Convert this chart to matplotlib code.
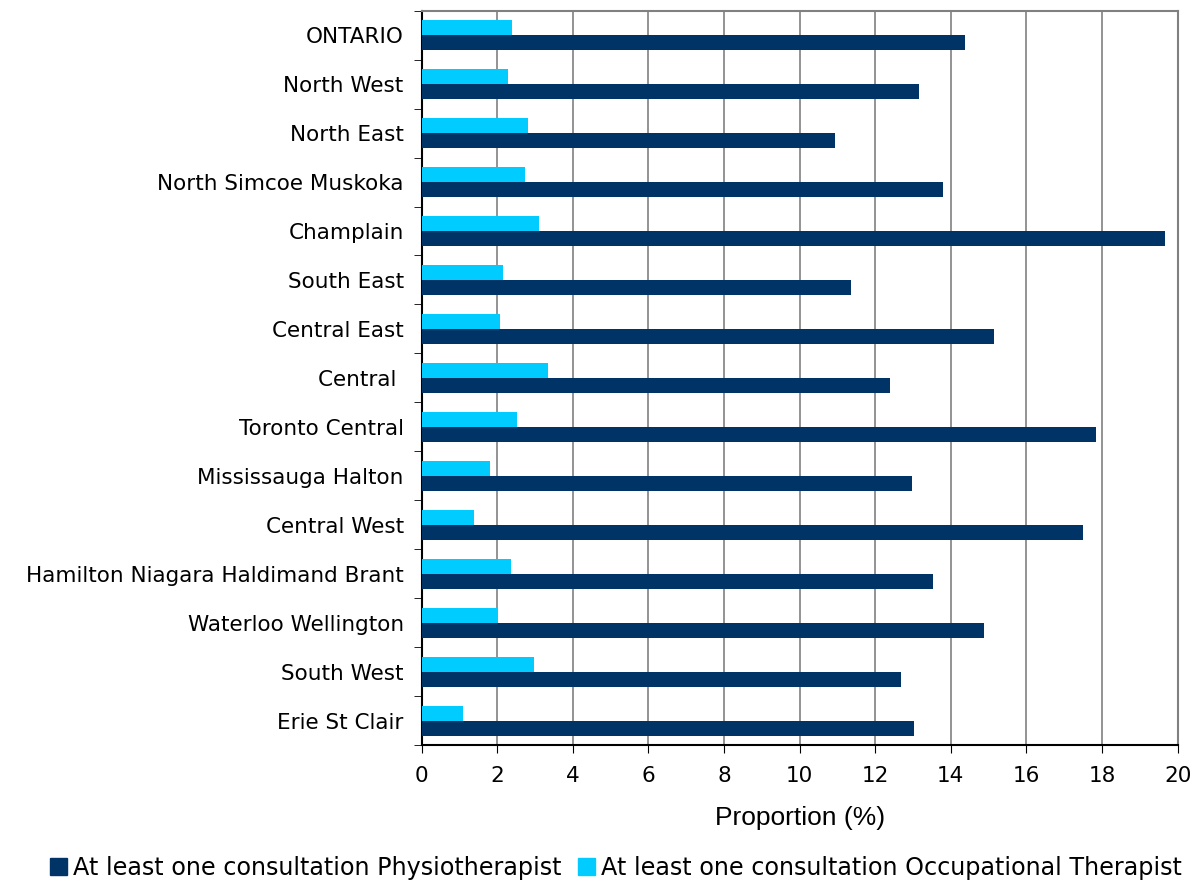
import numpy as np
import matplotlib.pyplot as plt
from matplotlib.patches import Patch

regions = ["ONTARIO", "North West", "North East", "North Simcoe Muskoka", "Champlain",
           "South East", "Central East", "Central ", "Toronto Central", "Mississauga Halton",
           "Central West", "Hamilton Niagara Haldimand Brant", "Waterloo Wellington",
           "South West", "Erie St Clair"]
physio = [14.37, 13.15, 10.93, 13.78, 19.66, 11.35, 15.13, 12.38, 17.83, 12.96,
          17.49, 13.54, 14.89, 12.67, 13.02]
occup = [2.39, 2.29, 2.80, 2.74, 3.11, 2.16, 2.06, 3.33, 2.53, 1.82,
         1.39, 2.35, 1.98, 2.98, 1.10]

navy = "#003366"
cyan = "#00ccff"

fig = plt.figure(figsize=(11.98, 8.8), dpi=100)
ax = fig.add_axes([0.352, 0.153, 0.631, 0.835])

y = np.arange(len(regions))
h = 0.31
ax.barh(y + h / 2, physio, height=h, color=navy, zorder=3)
ax.barh(y - h / 2, occup, height=h, color=cyan, zorder=3)

ax.set_xlim(0, 20)
ax.set_ylim(-0.5, len(regions) - 0.5)
ax.invert_yaxis()
ax.set_xticks(np.arange(0, 21, 2))
ax.tick_params(axis="x", labelsize=15.5, length=6, direction="out", pad=9)
ax.set_yticks(y)
ax.set_yticklabels(regions, fontsize=15.5)
ax.set_yticks(np.arange(-0.5, len(regions), 1), minor=True)
ax.tick_params(axis="y", which="major", length=0, pad=13)
ax.tick_params(axis="y", which="minor", length=6)
ax.grid(axis="x", color="#808080", linewidth=1.2, zorder=0)
for s in ax.spines.values():
    s.set_color("#808080")
    s.set_linewidth(1.5)
ax.spines["left"].set_color("black")
ax.spines["bottom"].set_color("black")

ax.set_xlabel("Proportion (%)", fontsize=19, family="Liberation Sans", labelpad=14)

handles = [Patch(color=navy, label="At least one consultation Physiotherapist"),
           Patch(color=cyan, label="At least one consultation Occupational Therapist")]
fig.legend(handles=handles, loc="lower center", bbox_to_anchor=(0.514, -0.024), ncol=2,
           frameon=False, fontsize=17.2, handlelength=0.7, handleheight=0.7,
           handletextpad=0.25, columnspacing=0.7)

plt.savefig("out.png", dpi=100)
